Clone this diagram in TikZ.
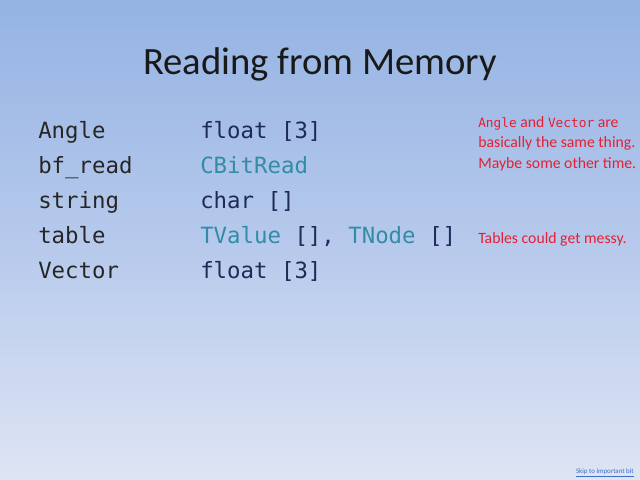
\documentclass[tikz,border=0pt]{standalone}
\usepackage{fontspec}
\setmainfont{Carlito}
\newfontfamily\codefont{DejaVu Sans Mono}
\definecolor{bgtop}{RGB}{149,179,227}
\definecolor{bgmid}{RGB}{182,201,236}
\definecolor{bgbot}{RGB}{222,229,244}
\definecolor{codegray}{RGB}{38,38,38}
\definecolor{navy}{RGB}{31,42,88}
\definecolor{teal}{RGB}{50,140,165}
\definecolor{notered}{RGB}{228,32,52}
\definecolor{linkblue}{RGB}{60,110,200}
\tikzset{
  titletext/.style={anchor=base, inner sep=0pt, font=\fontsize{27.5}{32}\selectfont, text=black!90},
  keytext/.style={anchor=base west, inner sep=0pt, font=\codefont\fontsize{15.9}{19}\selectfont, text=codegray},
  typetext/.style={anchor=base west, inner sep=0pt, font=\codefont\fontsize{15.9}{19}\selectfont, text=navy},
  notetext/.style={anchor=base west, inner sep=0pt, font=\fontsize{11.2}{14}\selectfont, text=notered},
  linktext/.style={anchor=base east, inner sep=0pt, font=\fontsize{4.9}{6}\selectfont, text=linkblue}
}
\newcommand{\nm}[1]{{\codefont\fontsize{9.1}{10}\selectfont #1}}
\newcommand{\tc}[1]{\textcolor{teal}{#1}}
\begin{document}
\begin{tikzpicture}[x=0.025cm,y=-0.025cm]
\useasboundingbox (0,0) rectangle (640,480);
\shade[top color=bgtop, bottom color=bgmid] (0,0) rectangle (640,240);
\shade[top color=bgmid, bottom color=bgbot] (0,240) rectangle (640,480);
\node[titletext] (title) at (320,74) {Reading from Memory};
\node[keytext] (k1) at (38,138) {Angle};
\node[keytext] (k2) at (38,173) {bf\_read};
\node[keytext] (k3) at (38,208) {string};
\node[keytext] (k4) at (38,243) {table};
\node[keytext] (k5) at (38,278) {Vector};
\node[typetext] (t1) at (200,138) {float [3]};
\node[typetext] (t2) at (200,173) {\tc{CBitRead}};
\node[typetext] (t3) at (200,208) {char []};
\node[typetext] (t4) at (200,243) {\tc{TValue} [], \tc{TNode} []};
\node[typetext] (t5) at (200,278) {float [3]};
\node[notetext] (n1) at (478,127) {\nm{Angle} and \nm{Vector} are};
\node[notetext] (n2) at (478,147) {basically the same thing.};
\node[notetext] (n3) at (478,168) {Maybe some other time.};
\node[notetext] (n4) at (478,243) {Tables could get messy.};
\node[linktext] (link) at (634,473) {\underline{Skip to important bit}};
\end{tikzpicture}
\end{document}
